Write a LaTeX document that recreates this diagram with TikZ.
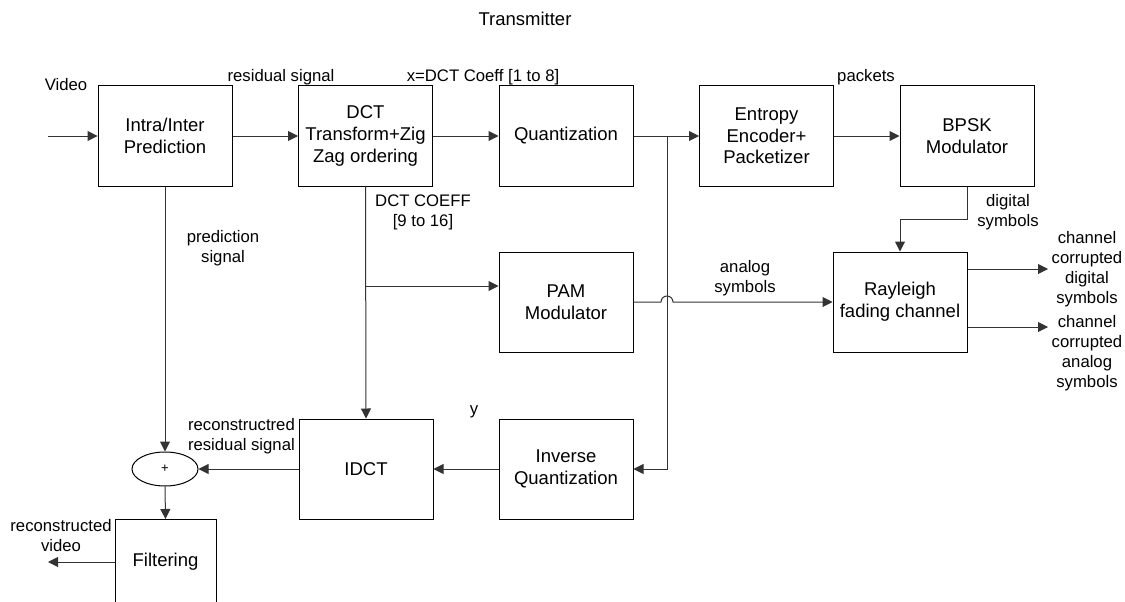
\documentclass[tikz,border=0pt]{standalone}
\usepackage{fontspec}
\setmainfont{Liberation Sans}
\usetikzlibrary{arrows.meta,shapes.geometric,calc}

\begin{document}
\begin{tikzpicture}[x=1pt,y=-1pt,
  blk/.style={draw=black,line width=1pt,minimum width=134pt,minimum height=100pt,
    align=center,inner sep=0pt,font=\fontsize{18.5}{21.7}\selectfont},
  lbl/.style={align=center,inner sep=0pt,font=\fontsize{16.7}{20}\selectfont},
  wire/.style={draw=black!80,line width=1pt},
  conn/.style={wire,-{Triangle[length=10pt,width=10pt]}}]

\useasboundingbox (0,0) rectangle (1125,602);
\clip (0,0) rectangle (1125,602);

% processing blocks
\node[blk] (intra) at (165,136) {Intra/Inter\\Prediction};
\node[blk] (dct)   at (365.5,136) {DCT\\Transform+Zig\\Zag ordering};
\node[blk] (quant) at (566,136) {Quantization};
\node[blk] (ent)   at (766.5,136) {Entropy\\Encoder+\\Packetizer};
\node[blk] (bpsk)  at (967,136) {BPSK\\Modulator};
\node[blk] (pam)   at (566,302) {PAM\\Modulator};
\node[blk] (ray)   at (900,302) {Rayleigh\\fading channel};
\node[blk] (idct)  at (366,469) {IDCT};
\node[blk] (iq)    at (566,469) {Inverse\\Quantization};
\node[blk,minimum width=101pt,minimum height=100pt,anchor=north] (filt) at (165.5,519) {};
\node[font=\fontsize{18.5}{21.7}\selectfont,inner sep=0pt] (filtxt) at (165.5,562) {Filtering};
\node[draw=black,line width=1pt,ellipse,minimum width=66pt,minimum height=34pt,inner sep=0pt,
  font=\fontsize{13}{15}\selectfont] (sum) at (165,469) {+};

% free ends and branch points
\coordinate (vin)  at (48,136);
\coordinate (vout) at (48,562);
\coordinate (tap)  at (667,136);
\coordinate (dtap) at (365.5,286);
\coordinate (o1)   at (1048,269);
\coordinate (o2)   at (1048,327);

% connectors
\draw[conn] (vin) -- (intra.west);
\draw[conn] (intra.east) -- (dct.west);
\draw[conn] (dct.east) -- (quant.west);
\draw[conn] (quant.east) -- (ent.west);
\draw[conn] (ent.east) -- (bpsk.west);
\draw[conn] (tap) |- (iq.east);
\draw[conn] (bpsk.south) -- ++(0,33) -| (ray.north);
\draw[conn] (dct.south) -- (idct.north);
\draw[conn] (dtap) -- (pam.west |- dtap);
\draw[conn] (pam.east) -- ([xshift=-6pt]tap |- pam.east)
  arc[start angle=180,end angle=0,radius=6pt] -- (ray.west);
\draw[conn] (ray.east |- o1) -- (o1);
\draw[conn] (ray.east |- o2) -- (o2);
\draw[conn] (intra.south) -- (sum.north);
\draw[conn] (iq.west) -- (idct.east);
\draw[conn] (idct.west) -- (sum.east);
\draw[conn] (sum.south) -- (filt.north);
\draw[conn] (filt.west |- vout) -- (vout);

% labels
\node[inner sep=0pt,font=\fontsize{18.5}{21}\selectfont] (title) at (525,19) {Transmitter};
\node[lbl] (lvideo) at (66,85) {Video};
\node[lbl] (lres) at (281,77) {residual signal};
\node[lbl] (lx) at (483,77) {x=DCT Coeff [1 to 8]};
\node[lbl] (lpk) at (866,77) {packets};
\node[lbl] (ldig) at (1008,212) {digital\\symbols};
\node[lbl] (lcd) at (1087,269) {channel\\corrupted\\digital\\symbols};
\node[lbl] (lca) at (1087,353) {channel\\corrupted\\analog\\symbols};
\node[lbl] (lan) at (745,278) {analog\\symbols};
\node[lbl] (lcoef) at (423,212) {DCT COEFF\\{}[9 to 16]};
\node[lbl] (lpred) at (223,248) {prediction\\signal};
\node[lbl,align=right,anchor=east] (lrec) at (295,436) {reconstructred\\residual signal};
\node[lbl] (ly) at (474,412) {y};
\node[lbl] (lrv) at (61,536) {reconstructed\\video};
\end{tikzpicture}
\end{document}
